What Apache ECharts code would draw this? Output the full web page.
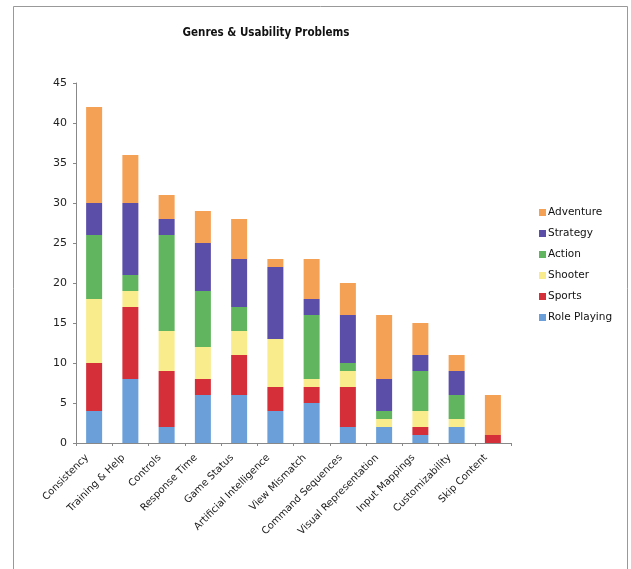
<!DOCTYPE html>
<html>
<head>
<meta charset="utf-8">
<script src="https://cdn.jsdelivr.net/npm/echarts@6/dist/echarts.min.js"></script>
<style>
html,body{margin:0;padding:0;background:#fff;}
#chart{width:631px;height:569px;}
</style>
</head>
<body>
<div id="chart"></div>
<script>
const categories = ["Consistency","Training & Help","Controls","Response Time","Game Status","Artificial Intelligence","View Mismatch","Command Sequences","Visual Representation","Input Mappings","Customizability","Skip Content"];
const rolePlaying = [4,8,2,6,6,4,5,2,2,1,2,0];
const sports      = [6,9,7,2,5,3,2,5,0,1,0,1];
const shooter     = [8,2,5,4,3,6,1,2,1,2,1,0];
const action      = [8,2,12,7,3,0,8,1,1,5,3,0];
const strategy    = [4,9,2,6,6,9,2,6,4,2,3,0];
const adventure   = [12,6,3,4,5,1,5,4,8,4,2,5];
const seriesNames = ["Role Playing","Sports","Shooter","Action","Strategy","Adventure"];
const seriesColors = ["#6A9FDA","#D5303A","#F8EC8C","#60B55E","#5B4EA8","#F4A055"];
const yTicks = [0,5,10,15,20,25,30,35,40,45];

const allData = [rolePlaying, sports, shooter, action, strategy, adventure];
const chart = echarts.init(document.getElementById('chart'));
const font = "DejaVu Sans";
chart.setOption({
  animation: false,
  backgroundColor: '#fff',
  title: {
    text: 'Genres & Usability Problems',
    left: 261, top: 22, textAlign: 'center',
    textStyle: {fontFamily: "DejaVu Sans Condensed, DejaVu Sans", fontSize: 11.5, fontWeight: 'bold', color: '#111'}
  },
  graphic: [{
    type: 'rect', shape: {x: 13.5, y: 6.5, width: 614, height: 580},
    style: {fill: 'none', stroke: '#999', lineWidth: 1}, silent: true
  }],
  legend: {
    data: seriesNames.slice().reverse(),
    orient: 'vertical', left: 534, top: 201,
    itemWidth: 7, itemHeight: 7, itemGap: 8,
    icon: 'rect',
    textStyle: {fontFamily: font, fontSize: 10.5, color: '#111', padding: [0,0,0,-3], lineHeight: 13}
  },
  grid: {left: 76, right: 120, top: 83, bottom: 126},
  xAxis: {
    type: 'category', data: categories,
    axisLine: {lineStyle: {color: '#888'}},
    axisTick: {show: true, alignWithLabel: false, length: 3, lineStyle: {color: '#888'}},
    axisLabel: {rotate: 45, interval: 0, fontFamily: font, fontSize: 10, color: '#222', margin: 6, padding: [0, 10, 0, 0]}
  },
  yAxis: {
    type: 'value', min: 0, max: 45, interval: 5,
    axisLine: {show: true, lineStyle: {color: '#888'}},
    axisTick: {show: true, length: 3, lineStyle: {color: '#888'}},
    splitLine: {show: false},
    axisLabel: {fontFamily: font, fontSize: 11, color: '#222', margin: 9,
      formatter: v => yTicks.includes(v) ? String(v) : ''}
  },
  series: seriesNames.map((n, i) => ({
    name: n, type: 'bar', stack: 'total', barWidth: 16,
    data: allData[i],
    itemStyle: {color: seriesColors[i]}
  }))
});
</script>
</body>
</html>
